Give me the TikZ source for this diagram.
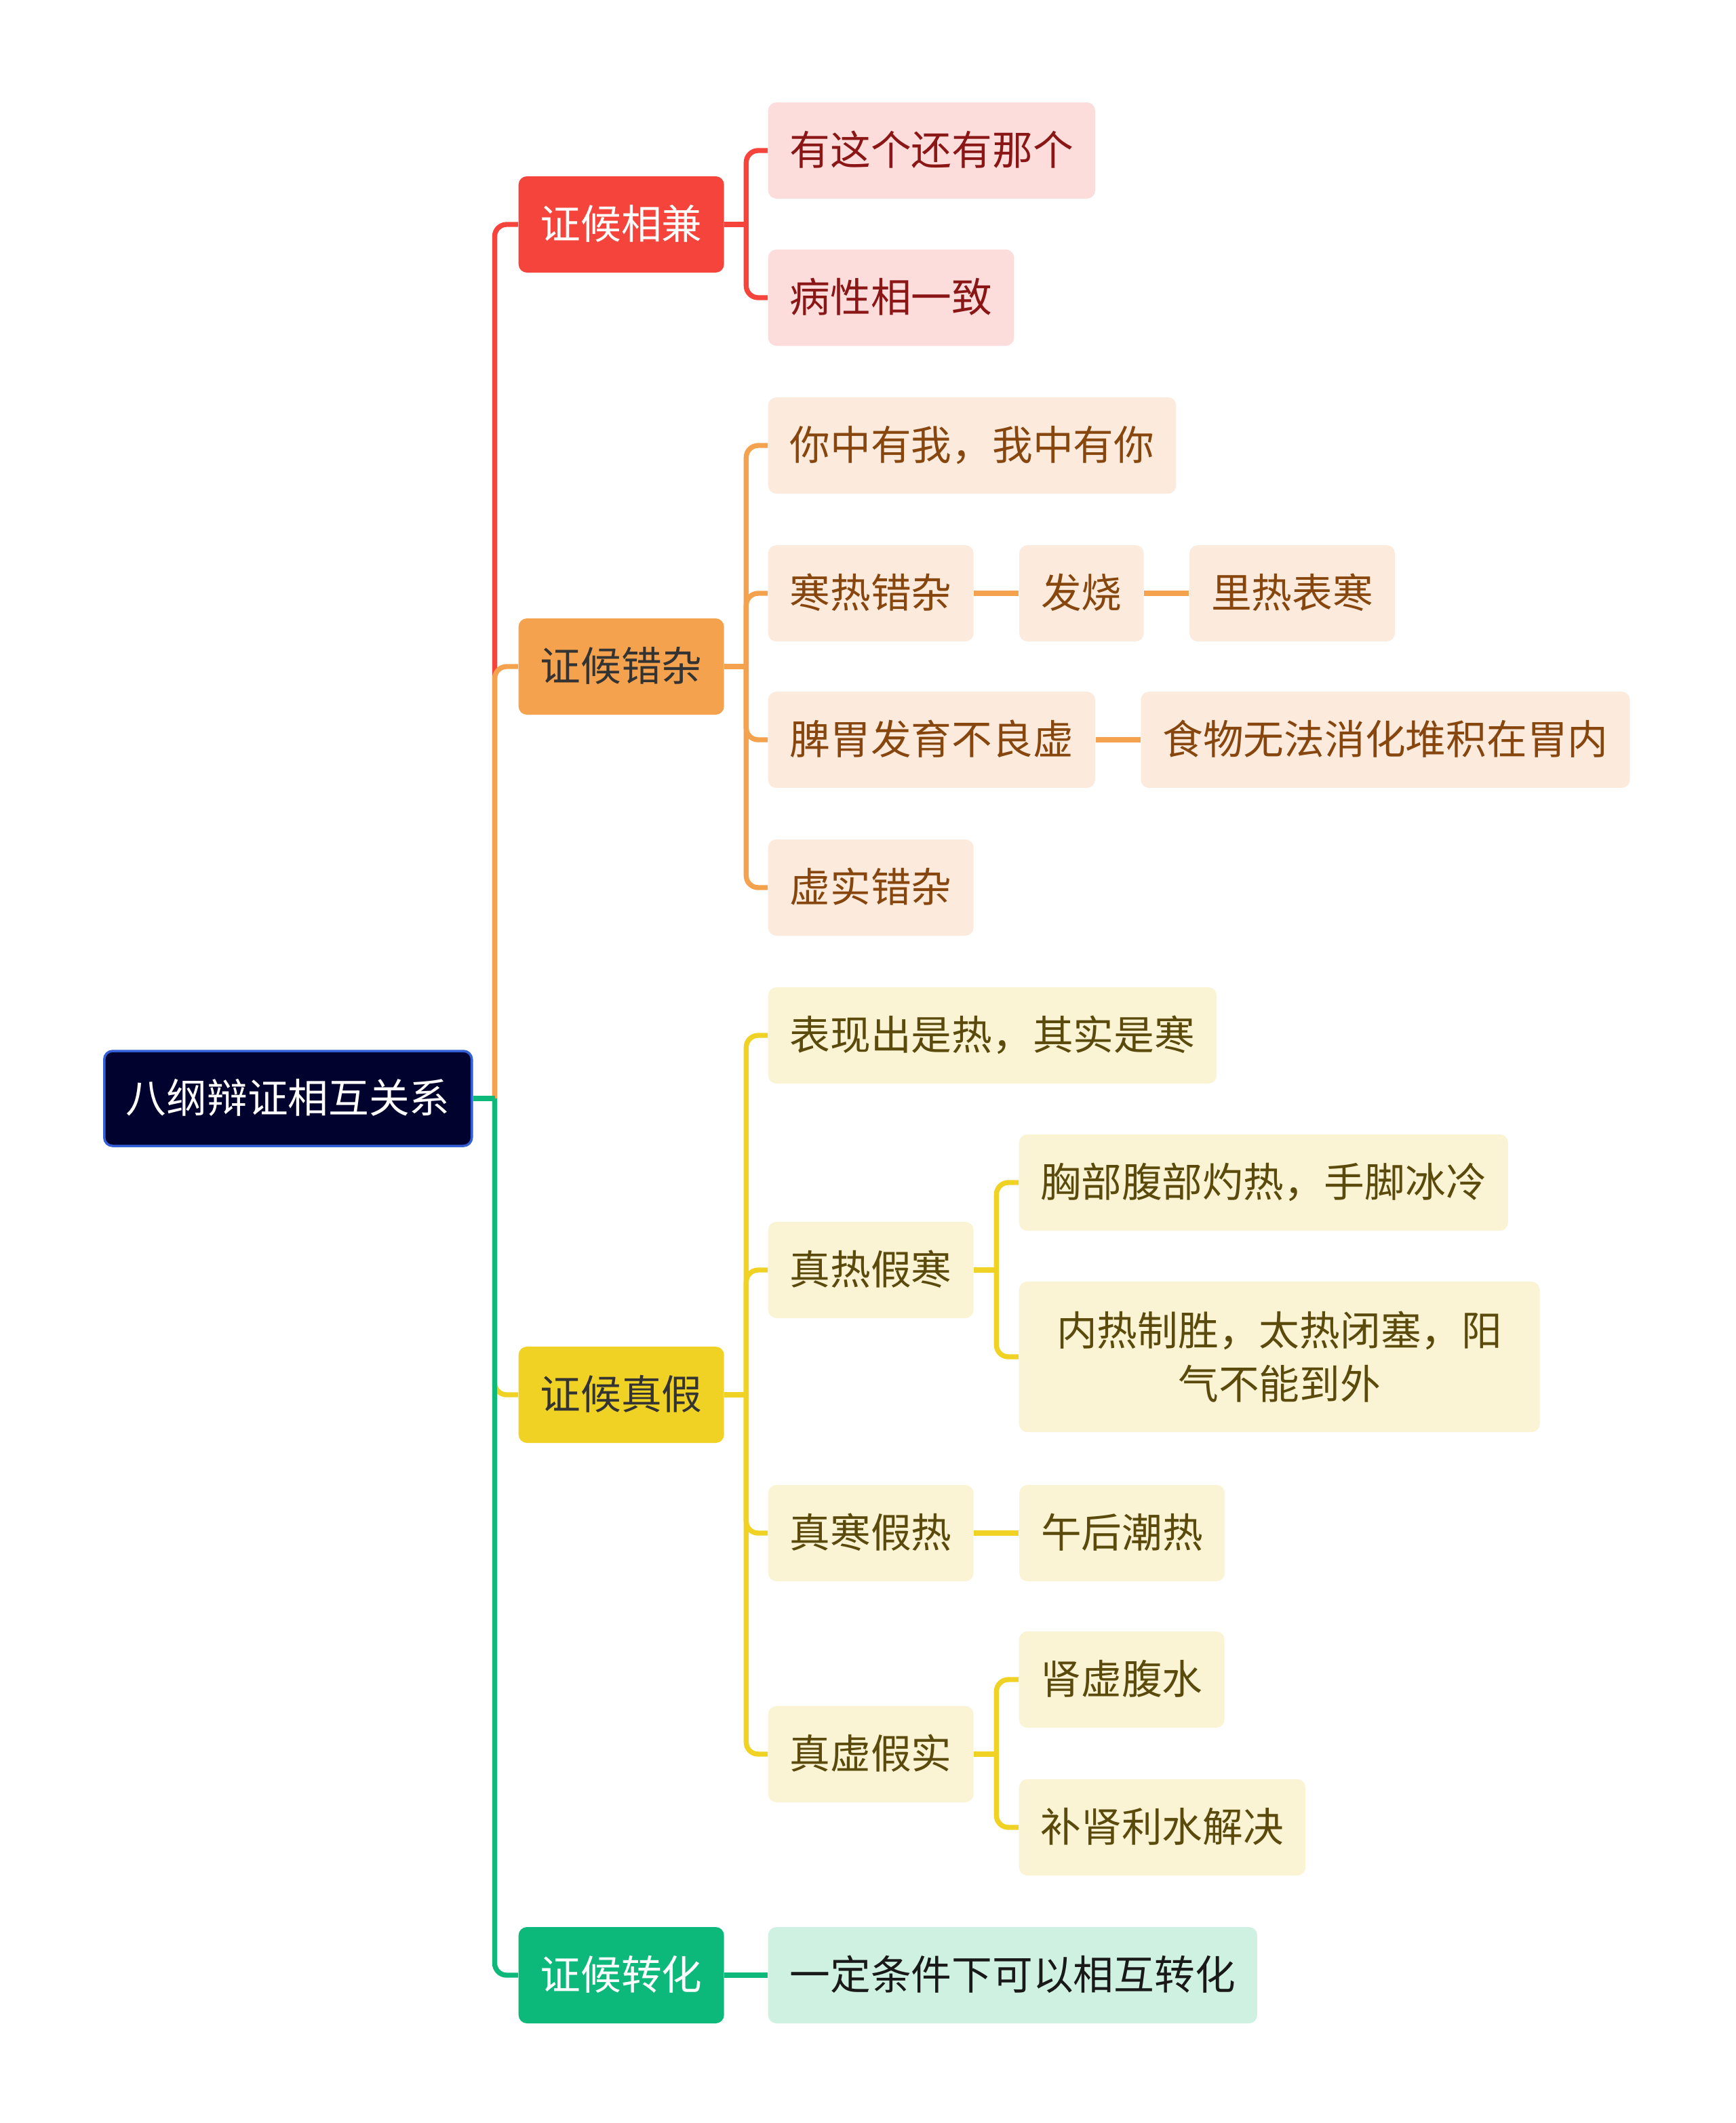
\documentclass[tikz,border=0pt]{standalone}
\usepackage{fontspec}
\newfontfamily\cjk{Noto Sans CJK SC}
\usetikzlibrary{positioning}
\definecolor{rootfill}{HTML}{02022E}
\definecolor{rootdraw}{HTML}{3360D6}
\definecolor{cred}{HTML}{F5443B}
\definecolor{corg}{HTML}{F4A24E}
\definecolor{cylw}{HTML}{EFD224}
\definecolor{cgrn}{HTML}{0DB97A}
\definecolor{lred}{HTML}{FDDCDC}
\definecolor{lorg}{HTML}{FCEBDC}
\definecolor{lylw}{HTML}{FBF4D4}
\definecolor{lgrn}{HTML}{CFF1E2}
\definecolor{tred}{HTML}{8A1616}
\definecolor{torg}{HTML}{86460E}
\definecolor{tylw}{HTML}{5A4A0C}
\tikzset{box/.style={rounded corners=3.5pt,anchor=west,inner xsep=0.32cm,inner ysep=0pt,minimum height=1.42cm,text height=1.2em,text depth=0em,font=\cjk\fontsize{17}{22.7}\selectfont},
rootbox/.style={box,fill=rootfill,draw=rootdraw,line width=1pt,text=white,minimum height=1.4cm},
redtop/.style={box,fill=cred,text=white},orgtop/.style={box,fill=corg,text=black!80},
ylwtop/.style={box,fill=cylw,text=black!80},grntop/.style={box,fill=cgrn,text=white},
redleaf/.style={box,fill=lred,text=tred},orgleaf/.style={box,fill=lorg,text=torg},
ylwleaf/.style={box,fill=lylw,text=tylw},grnleaf/.style={box,fill=lgrn,text=black!90},
link/.style={line width=2.1pt,rounded corners=5pt},
redline/.style={link,draw=cred},orgline/.style={link,draw=corg},
ylwline/.style={link,draw=cylw},grnline/.style={link,draw=cgrn}}
\begin{document}
\begin{tikzpicture}[node distance=0.66cm]
\useasboundingbox[fill=white](0,0) rectangle (25.6,-31.31);
\node[rootbox](root) at (1.52,-16.2){八纲辩证相互关系};
\coordinate[right=0.32cm of root.east](hub);
% first level
\node[redtop](xj) at (7.64,-3.31){证候相兼};
\node[orgtop](cz) at (7.64,-9.83){证候错杂};
\node[ylwtop](zj) at (7.64,-20.57){证候真假};
\node[grntop](zh) at (7.64,-29.13){证候转化};
% 证候相兼
\node[redleaf](xj1) at (11.32,-2.22){有这个还有那个};
\node[redleaf](xj2) at (11.32,-4.39){病性相一致};
% 证候错杂
\node[orgleaf](cz1) at (11.32,-6.57){你中有我，我中有你};
\node[orgleaf](cz2) at (11.32,-8.75){寒热错杂};
\node[orgleaf,right=of cz2](fs){发烧};
\node[orgleaf,right=of fs](lr){里热表寒};
\node[orgleaf](cz3) at (11.32,-10.91){脾胃发育不良虚};
\node[orgleaf,right=of cz3](sw){食物无法消化堆积在胃内};
\node[orgleaf](cz4) at (11.32,-13.09){虚实错杂};
% 证候真假
\node[ylwleaf](zj1) at (11.32,-15.27){表现出是热，其实是寒};
\node[ylwleaf](zj2) at (11.32,-18.73){真热假寒};
\node[ylwleaf](zr1) at (15.02,-17.44){胸部腹部灼热，手脚冰冷};
\node[ylwleaf,text width=6.7cm,align=center,inner xsep=0.49cm,text height=,text depth=,minimum height=2.22cm](zr2) at (15.02,-20.01){内热制胜，太热闭塞，阳\\气不能到外};
\node[ylwleaf](zj3) at (11.32,-22.61){真寒假热};
\node[ylwleaf,right=of zj3](wh){午后潮热};
\node[ylwleaf](zj4) at (11.32,-25.87){真虚假实};
\node[ylwleaf](zx1) at (15.02,-24.77){肾虚腹水};
\node[ylwleaf](zx2) at (15.02,-26.95){补肾利水解决};
% 证候转化
\node[grnleaf](zh1) at (11.32,-29.13){一定条件下可以相互转化};
% connectors
\draw[redline](hub)|-(xj.west);
\draw[orgline](hub)|-(cz.west);
\draw[ylwline](hub)|-(zj.west);
\draw[grnline](hub)|-(zh.west);
\draw[grnline](root.east)--(hub);
\draw[redline](xj.east)--++(0.32,0) coordinate(xjh);
\foreach \c in {xj1,xj2} \draw[redline](xjh)|-(\c.west);
\draw[orgline](cz.east)--++(0.32,0) coordinate(czh);
\foreach \c in {cz1,cz2,cz3,cz4} \draw[orgline](czh)|-(\c.west);
\draw[orgline](cz2)--(fs);\draw[orgline](fs)--(lr);\draw[orgline](cz3)--(sw);
\draw[ylwline](zj.east)--++(0.32,0) coordinate(zjh);
\foreach \c in {zj1,zj2,zj3,zj4} \draw[ylwline](zjh)|-(\c.west);
\draw[ylwline](zj2.east)--++(0.33,0) coordinate(zrh);
\foreach \c in {zr1,zr2} \draw[ylwline](zrh)|-(\c.west);
\draw[ylwline](zj3)--(wh);
\draw[ylwline](zj4.east)--++(0.33,0) coordinate(zxh);
\foreach \c in {zx1,zx2} \draw[ylwline](zxh)|-(\c.west);
\draw[grnline](zh)--(zh1);
\end{tikzpicture}
\end{document}
